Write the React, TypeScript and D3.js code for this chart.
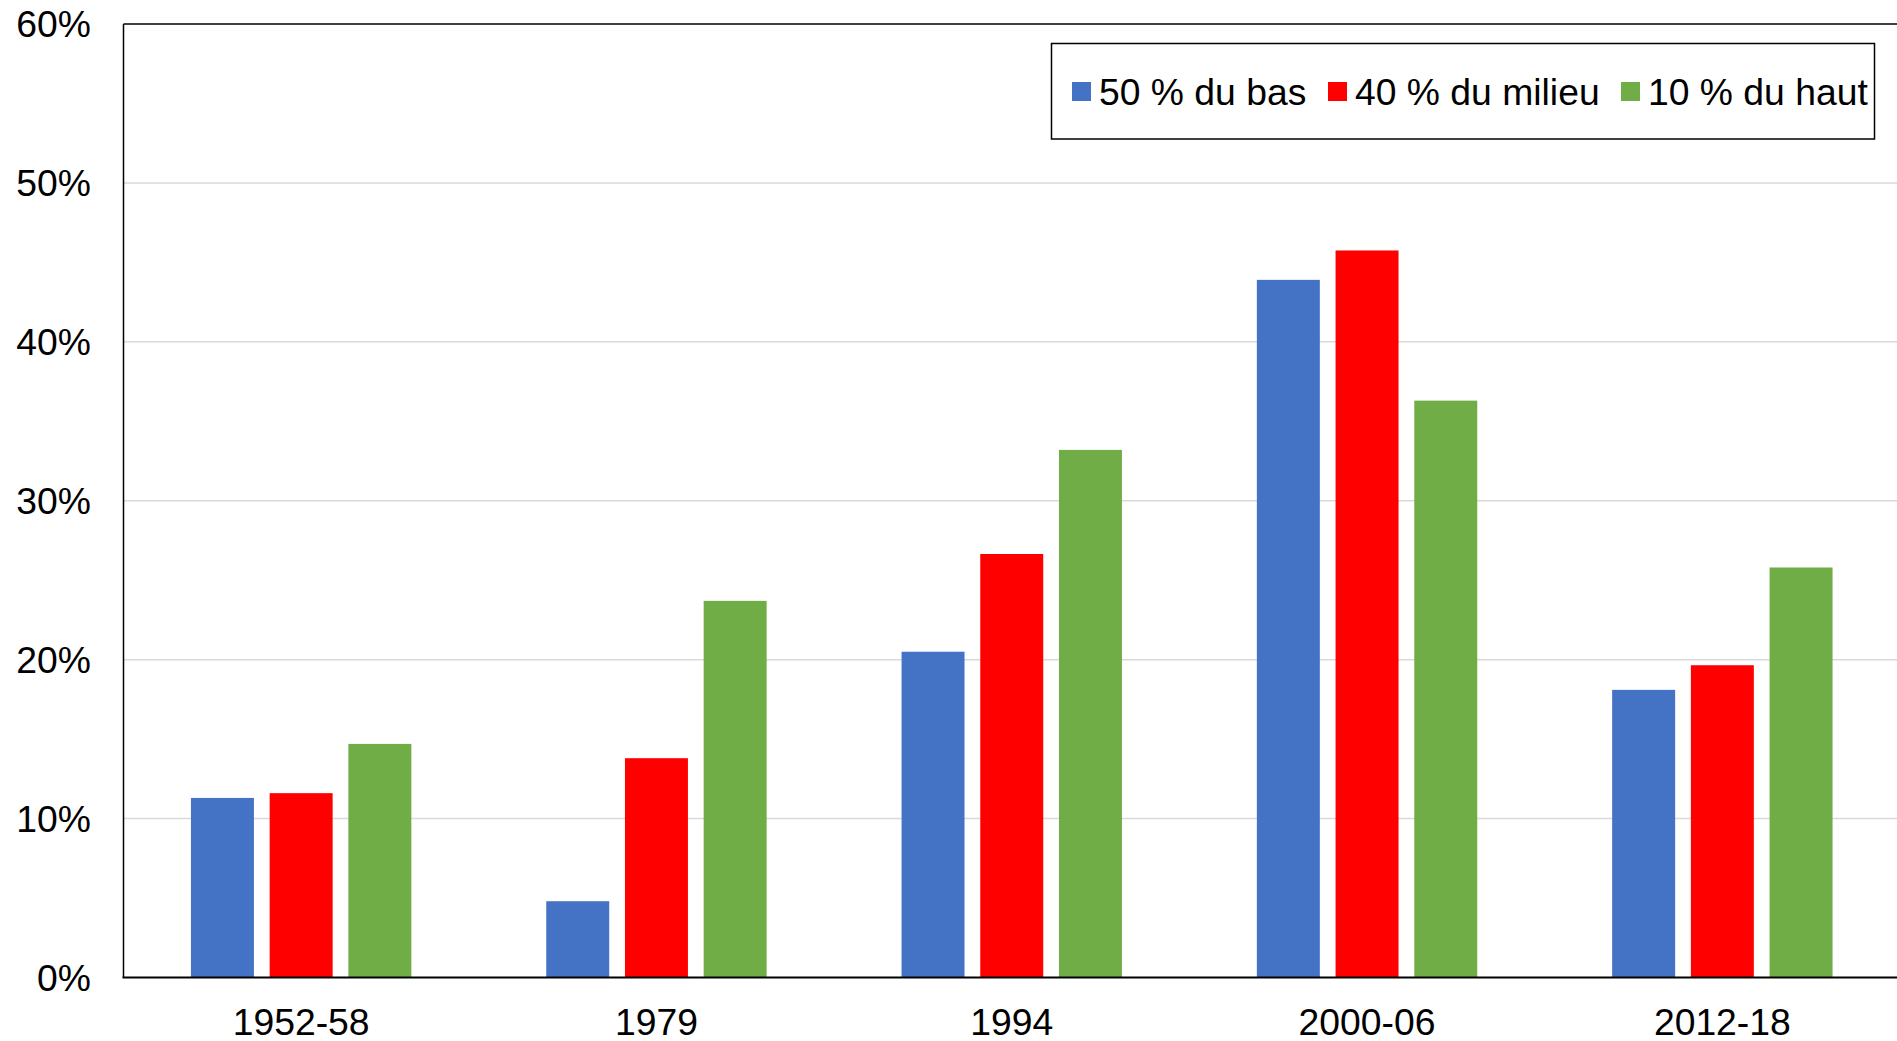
import React from "react";
import * as d3 from "d3";

const categories = ["1952-58", "1979", "1994", "2000-06", "2012-18"];
const seriesNames = ["50 % du bas", "40 % du milieu", "10 % du haut"];
const bottom50 = [11.3, 4.8, 20.5, 43.9, 18.1];
const middle40 = [11.6, 13.8, 26.65, 45.75, 19.65];
const top10 = [14.7, 23.7, 33.2, 36.3, 25.8];
const seriesColors = ["#4472C4", "#FF0000", "#70AD47"];
const yTicks = [0, 10, 20, 30, 40, 50, 60];

const W = 1897;
const H = 1041;
const left = 123.5;
const right = 1900;
const top = 24;
const base = 977.5;
const FONT = "'Liberation Sans', Arial, sans-serif";
const FS = 37.3;

export default function App() {
  const values = [bottom50, middle40, top10];
  const x0 = d3.scaleBand<string>().domain(categories).range([left, right]).paddingInner(0).paddingOuter(0);
  const x1 = d3
    .scaleBand<string>()
    .domain(seriesNames)
    .range([0, x0.bandwidth()])
    .paddingInner(0.2)
    .paddingOuter(0.857);
  const y = d3.scaleLinear().domain([0, 60]).range([base, top]);

  const legendX = [1072, 1328, 1621];
  return (
    <svg
      width={W}
      height={H}
      style={{ position: "absolute", left: 0, top: 0, background: "#fff" }}
      fontFamily={FONT}
    >
      {yTicks.slice(1, -1).map((t) => (
        <line key={t} x1={left} x2={W} y1={y(t)} y2={y(t)} stroke="#d9d9d9" strokeWidth={1.5} />
      ))}
      {categories.map((c, ci) =>
        seriesNames.map((s, si) => (
          <rect
            key={c + s}
            x={(x0(c) as number) + (x1(s) as number)}
            width={x1.bandwidth()}
            y={y(values[si][ci])}
            height={base - y(values[si][ci])}
            fill={seriesColors[si]}
          />
        ))
      )}
      <line x1={left} x2={W} y1={top} y2={top} stroke="#000" strokeWidth={1.5} />
      <line x1={left} x2={left} y1={top} y2={base} stroke="#000" strokeWidth={1.5} />
      <line x1={left - 1} x2={W} y1={base} y2={base} stroke="#000" strokeWidth={2} />
      {yTicks.map((t) => (
        <text key={t} x={91} y={y(t)} dy="0.36em" textAnchor="end" fontSize={FS} fill="#000">
          {t}%
        </text>
      ))}
      {categories.map((c) => (
        <text
          key={c}
          x={(x0(c) as number) + x0.bandwidth() / 2}
          y={1034.5}
          textAnchor="middle"
          fontSize={FS}
          fill="#000"
        >
          {c}
        </text>
      ))}
      <rect x={1051.5} y={43.5} width={823} height={95.5} fill="#fff" stroke="#000" strokeWidth={1.5} />
      {seriesNames.map((s, i) => (
        <g key={s}>
          <rect x={legendX[i]} y={82} width={19} height={19} fill={seriesColors[i]} />
          <text x={legendX[i] + 27} y={104.5} fontSize={FS} fill="#000">
            {s}
          </text>
        </g>
      ))}
    </svg>
  );
}
